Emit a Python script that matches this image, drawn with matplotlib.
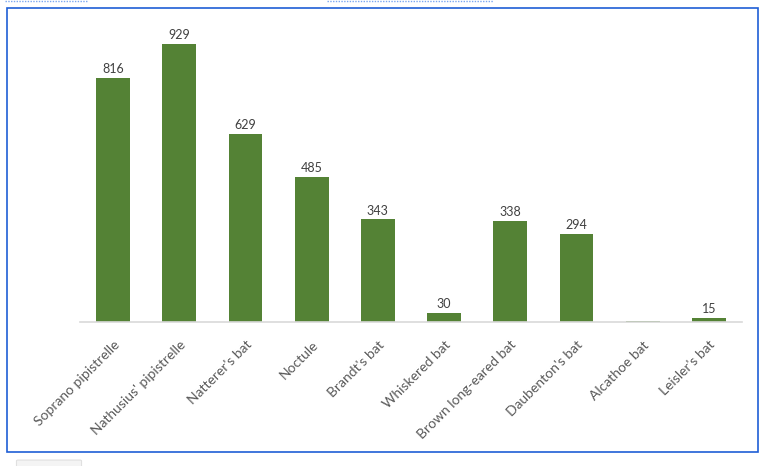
import matplotlib
matplotlib.use('Agg')
import matplotlib.pyplot as plt
from matplotlib.patches import Rectangle, FancyBboxPatch
from matplotlib.lines import Line2D

species = ['Soprano pipistrelle', "Nathusius' pipistrelle", "Natterer's bat", 'Noctule',
           "Brandt's bat", 'Whiskered bat', 'Brown long-eared bat', "Daubenton's bat",
           'Alcathoe bat', "Leisler's bat"]
counts = [816, 929, 629, 485, 343, 30, 338, 294, 3, 15]
show_label = [True, True, True, True, True, True, True, True, False, True]

plt.rcParams['font.family'] = ['Lato', 'DejaVu Sans']

fig = plt.figure(figsize=(7.65, 4.66), dpi=100)
W, H = 765, 466

# chart frame
fig.patches.append(Rectangle((7 / W, 1 - 452 / H), 751 / W, 444 / H, transform=fig.transFigure,
                             fill=False, edgecolor='#1f5fd6', linewidth=1.2))
# bits of the surrounding page
for x0, x1 in [(5, 87), (327, 493)]:
    fig.lines.append(Line2D([x0 / W, x1 / W], [1 - 1 / H, 1 - 1 / H], transform=fig.transFigure,
                            color='#7aa6f0', linewidth=1, linestyle=(0, (1, 1))))
fig.patches.append(FancyBboxPatch((18 / W, 1 - 466 / H), 62 / W, 5 / H, transform=fig.transFigure,
                                  boxstyle='round,pad=0.002', facecolor='#f4f4f4', edgecolor='#e0e0e0',
                                  linewidth=0.8))

ax = fig.add_axes([80 / W, (H - 322) / H, 662 / W, 299.3 / H])
x = range(len(species))
bars = ax.bar(x, counts, width=0.51, color='#548235')
for b, v, s in zip(bars, counts, show_label):
    if s:
        ax.annotate(str(v), (b.get_x() + b.get_width() / 2, v), xytext=(0, 2),
                    textcoords='offset points', ha='center', va='bottom',
                    fontsize=9, color='#404040')

ax.set_xlim(-0.5, len(species) - 0.5)
ax.set_ylim(0, 1000)
ax.set_xticks(list(x))
ax.set_xticklabels(species, rotation=45, ha='right', rotation_mode='anchor',
                   fontsize=10, color='#595959')
ax.tick_params(axis='x', length=0, pad=12)
ax.set_yticks([])
for side in ['top', 'right', 'left']:
    ax.spines[side].set_visible(False)
ax.spines['bottom'].set_color('#d9d9d9')
ax.spines['bottom'].set_linewidth(1.2)

fig.savefig('out.png', dpi=100)
